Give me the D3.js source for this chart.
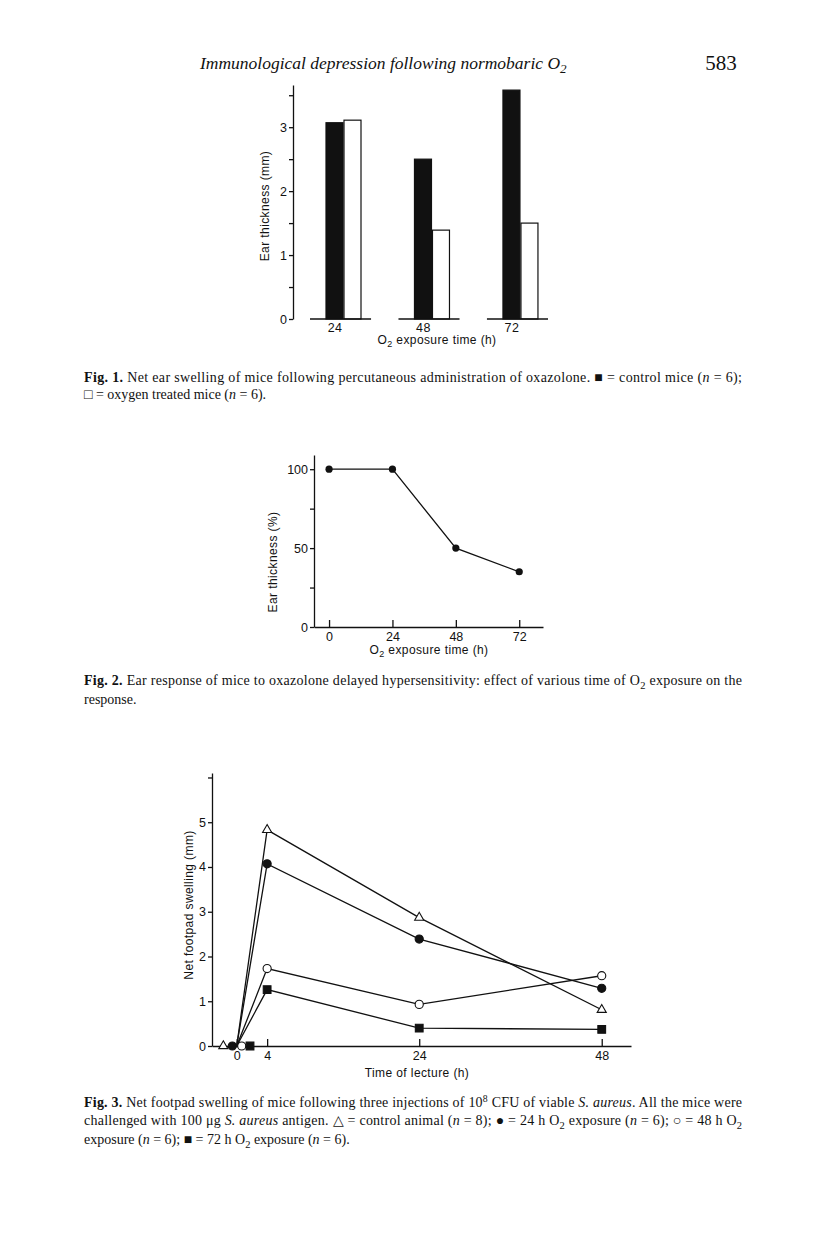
<!DOCTYPE html>
<html>
<head>
<meta charset="utf-8">
<script src="https://cdn.jsdelivr.net/npm/d3@7"></script>
<style>
  body { margin: 0; background: #fff; }
  svg { display: block; }
  .ax text { font-family: "Liberation Sans", Arial, sans-serif; font-size: 12.5px; fill: #111; }
  .ax path, .ax line { stroke: #111; stroke-width: 1.3; }
  .lbl { font-family: "Liberation Sans", Arial, sans-serif; font-size: 12px; letter-spacing: 0.4px; fill: #111; }
  .cap { font-family: "Liberation Serif", "Times New Roman", serif; font-size: 14px; fill: #111; }
</style>
</head>
<body>
<div id="page"></div>
<script>
// Fig. 1 – net ear swelling (mm)
const fig1Groups = ["24", "48", "72"];
const fig1Series = ["control", "oxygen"];
const fig1Control = [3.07, 2.50, 3.58];
const fig1Oxygen = [3.11, 1.39, 1.50];
const fig1YTicks = [0, 0.5, 1, 1.5, 2, 2.5, 3, 3.5];

// Fig. 2 – ear thickness (%) vs O2 exposure
const fig2Hours = [0, 24, 48, 72];
const fig2Values = [100, 100, 50, 35];
const fig2YTicks = [0, 25, 50, 75, 100];

// Fig. 3 – net footpad swelling (mm) vs time
const fig3Hours = [0, 4, 24, 48];
const fig3Control = [0, 4.83, 2.87, 0.81];   // triangle
const fig3O2_24 = [0, 4.07, 2.39, 1.29];     // filled circle
const fig3O2_48 = [0, 1.73, 0.93, 1.57];     // open circle
const fig3O2_72 = [0, 1.26, 0.40, 0.37];     // filled square
const fig3ZeroSpread = [-1.76, -0.58, 0.66, 1.75]; // markers at t=0 are drawn side by side
const fig3YTicks = [0, 1, 2, 3, 4, 5, 6];
const fig3XTicks = [0, 4, 24, 48];

const W = 816, H = 1241;
const svg = d3.select("#page").append("svg")
    .attr("width", W)
    .attr("height", H)
    .style("background", "#fff");

// helper: write text made of styled runs (bold, italic, sub, sup)
function runs(textSel, parts, baseSize) {
    let shift = 0;
    parts.forEach(p => {
        const [str, kind] = typeof p === "string" ? [p, ""] : p;
        const t = textSel.append("tspan").text(str);
        let target = 0;
        if (kind === "b") t.style("font-weight", "bold");
        if (kind === "i") t.style("font-style", "italic");
        if (kind === "sub") { target = baseSize * 0.25; t.style("font-size", (baseSize * 0.75) + "px"); }
        if (kind === "sup") { target = -baseSize * 0.35; t.style("font-size", (baseSize * 0.7) + "px"); }
        if (target !== shift) t.attr("dy", target - shift);
        shift = target;
    });
}

// ---------- page header ----------
const head = svg.append("text").attr("class", "cap")
    .attr("x", 200).attr("y", 69)
    .style("font-size", "17.5px").style("font-style", "italic");
runs(head, ["Immunological depression following normobaric O", ["2", "sub"]], 17.5);
svg.append("text").attr("class", "cap")
    .attr("x", 721).attr("y", 70)
    .attr("text-anchor", "middle")
    .style("font-size", "21px")
    .text("583");

// ---------- Fig. 1 ----------
const y1 = d3.scaleLinear().domain([0, 3.66]).range([319, 85]);
const x1 = d3.scaleBand().domain(fig1Groups).range([310, 548]).paddingInner(0.31).paddingOuter(0);
const xs1 = d3.scaleBand().domain(fig1Series).range([16, 52]);

const g1 = svg.append("g");
g1.append("g").attr("class", "ax")
    .attr("transform", "translate(293,0)")
    .call(d3.axisLeft(y1).tickValues(fig1YTicks).tickSize(4).tickSizeOuter(0).tickPadding(2)
        .tickFormat(d => Number.isInteger(d) ? d : ""));

const fig1Data = fig1Groups.map((g, i) => ({ g, control: fig1Control[i], oxygen: fig1Oxygen[i] }));
const grp = g1.selectAll("g.grp").data(fig1Data).enter().append("g")
    .attr("class", "grp")
    .attr("transform", d => `translate(${x1(d.g)},0)`);
grp.selectAll("rect").data(d => fig1Series.map(s => ({ s, v: d[s] }))).enter().append("rect")
    .attr("x", d => xs1(d.s))
    .attr("width", xs1.bandwidth() - 1)
    .attr("y", d => y1(d.v))
    .attr("height", d => y1(0) - y1(d.v))
    .attr("fill", d => d.s === "control" ? "#111" : "#fff")
    .attr("stroke", "#111")
    .attr("stroke-width", 1.2);
grp.append("line")
    .attr("x1", 0).attr("x2", x1.bandwidth())
    .attr("y1", y1(0)).attr("y2", y1(0))
    .attr("stroke", "#111").attr("stroke-width", 1.5);
grp.append("text").attr("class", "lbl")
    .style("font-size", "12.5px")
    .attr("x", xs1("control") + xs1.bandwidth() / 2)
    .attr("y", 332)
    .attr("text-anchor", "middle")
    .text(d => d.g);

const xl1 = g1.append("text").attr("class", "lbl").attr("x", 437).attr("y", 344).attr("text-anchor", "middle");
runs(xl1, ["O", ["2", "sub"], " exposure time (h)"], 12);
g1.append("text").attr("class", "lbl")
    .attr("transform", "translate(269,206) rotate(-90)")
    .attr("text-anchor", "middle")
    .text("Ear thickness (mm)");

// caption
const cap1a = svg.append("text").attr("class", "cap").attr("x", 84).attr("y", 382)
    .attr("textLength", 658).attr("lengthAdjust", "spacing");
runs(cap1a, [["Fig. 1.", "b"], " Net ear swelling of mice following percutaneous administration of oxazolone. \u25A0 = control mice (",
    ["n", "i"], " = 6);"], 14);
const cap1b = svg.append("text").attr("class", "cap").attr("x", 84).attr("y", 399);
runs(cap1b, ["\u25A1 = oxygen treated mice (", ["n", "i"], " = 6)."], 14);

// ---------- Fig. 2 ----------
const x2 = d3.scaleLinear().domain([-5.7, 81]).range([314, 543]);
const y2 = d3.scaleLinear().domain([0, 109]).range([627, 455]);
const g2 = svg.append("g");
g2.append("g").attr("class", "ax")
    .attr("transform", "translate(314,0)")
    .call(d3.axisLeft(y2).tickValues(fig2YTicks).tickSize(4).tickSizeOuter(0).tickPadding(2)
        .tickFormat(d => d % 50 === 0 ? d : ""));
g2.append("g").attr("class", "ax")
    .attr("transform", "translate(0,627)")
    .call(d3.axisBottom(x2).tickValues(fig2Hours).tickSize(-7).tickSizeOuter(0).tickPadding(5));
const line2 = d3.line().x(d => x2(d[0])).y(d => y2(d[1]));
const fig2Pts = fig2Hours.map((h, i) => [h, fig2Values[i]]);
g2.append("path").datum(fig2Pts).attr("d", line2)
    .attr("fill", "none").attr("stroke", "#111").attr("stroke-width", 1.3);
g2.selectAll("circle").data(fig2Pts).enter().append("circle")
    .attr("cx", d => x2(d[0])).attr("cy", d => y2(d[1])).attr("r", 3.6).attr("fill", "#111");
const xl2 = g2.append("text").attr("class", "lbl").attr("x", 429).attr("y", 654).attr("text-anchor", "middle");
runs(xl2, ["O", ["2", "sub"], " exposure time (h)"], 12);
g2.append("text").attr("class", "lbl")
    .attr("transform", "translate(277,562) rotate(-90)")
    .attr("text-anchor", "middle")
    .text("Ear thickness (%)");

const cap2a = svg.append("text").attr("class", "cap").attr("x", 84).attr("y", 685)
    .attr("textLength", 658).attr("lengthAdjust", "spacing");
runs(cap2a, [["Fig. 2.", "b"], " Ear response of mice to oxazolone delayed hypersensitivity: effect of various time of O",
    ["2", "sub"], " exposure on the"], 14);
svg.append("text").attr("class", "cap").attr("x", 84).attr("y", 704).text("response.");

// ---------- Fig. 3 ----------
const x3 = d3.scaleLinear().domain([-3.25, 51.85]).range([212, 631]);
const y3 = d3.scaleLinear().domain([0, 6.1]).range([1046, 773]);
const g3 = svg.append("g");
g3.append("g").attr("class", "ax")
    .attr("transform", "translate(212,0)")
    .call(d3.axisLeft(y3).tickValues(fig3YTicks).tickSize(4).tickSizeOuter(0).tickPadding(2)
        .tickFormat(d => d <= 5 ? d : ""));
g3.append("g").attr("class", "ax")
    .attr("transform", "translate(0,1046)")
    .call(d3.axisBottom(x3).tickValues(fig3XTicks).tickSize(-7).tickSizeOuter(0).tickPadding(5));

const fig3Series = [
    { name: "control", vals: fig3Control, sym: d3.symbolTriangle, size: 36, fill: "#fff" },
    { name: "24 h", vals: fig3O2_24, sym: d3.symbolCircle, size: 52, fill: "#111" },
    { name: "48 h", vals: fig3O2_48, sym: d3.symbolCircle, size: 52, fill: "#fff" },
    { name: "72 h", vals: fig3O2_72, sym: d3.symbolSquare, size: 60, fill: "#111" }
];
const line3 = d3.line().x(d => x3(d[0])).y(d => y3(d[1]));
fig3Series.forEach((s, si) => {
    const pts = fig3Hours.map((h, i) => [h, s.vals[i]]);
    g3.append("path").datum(pts).attr("d", line3)
        .attr("fill", "none").attr("stroke", "#111").attr("stroke-width", 1.3);
    g3.selectAll(null).data(pts).enter().append("path")
        .attr("d", d3.symbol(s.sym, s.size))
        .attr("transform", d => {
            const h = d[0] === 0 ? fig3ZeroSpread[si] : d[0];
            return `translate(${x3(h)},${y3(d[1])})`;
        })
        .attr("fill", s.fill).attr("stroke", "#111").attr("stroke-width", 1.1);
});
g3.append("text").attr("class", "lbl").attr("x", 417).attr("y", 1077)
    .attr("text-anchor", "middle").text("Time of lecture (h)");
g3.append("text").attr("class", "lbl")
    .attr("transform", "translate(193,905) rotate(-90)")
    .attr("text-anchor", "middle")
    .text("Net footpad swelling (mm)");

const cap3a = svg.append("text").attr("class", "cap").attr("x", 84).attr("y", 1107)
    .attr("textLength", 658).attr("lengthAdjust", "spacing");
runs(cap3a, [["Fig. 3.", "b"], " Net footpad swelling of mice following three injections of 10", ["8", "sup"],
    " CFU of viable ", ["S. aureus", "i"], ". All the mice were"], 14);
const cap3b = svg.append("text").attr("class", "cap").attr("x", 84).attr("y", 1125)
    .attr("textLength", 658).attr("lengthAdjust", "spacing");
runs(cap3b, ["challenged with 100 \u03BCg ", ["S. aureus", "i"], " antigen. \u25B3 = control animal (", ["n", "i"],
    " = 8); \u25CF = 24 h O", ["2", "sub"], " exposure (", ["n", "i"], " = 6); \u25CB = 48 h O", ["2", "sub"]], 14);
const cap3c = svg.append("text").attr("class", "cap").attr("x", 84).attr("y", 1144);
runs(cap3c, ["exposure (", ["n", "i"], " = 6); \u25A0 = 72 h O", ["2", "sub"], " exposure (", ["n", "i"], " = 6)."], 14);
</script>
</body>
</html>
